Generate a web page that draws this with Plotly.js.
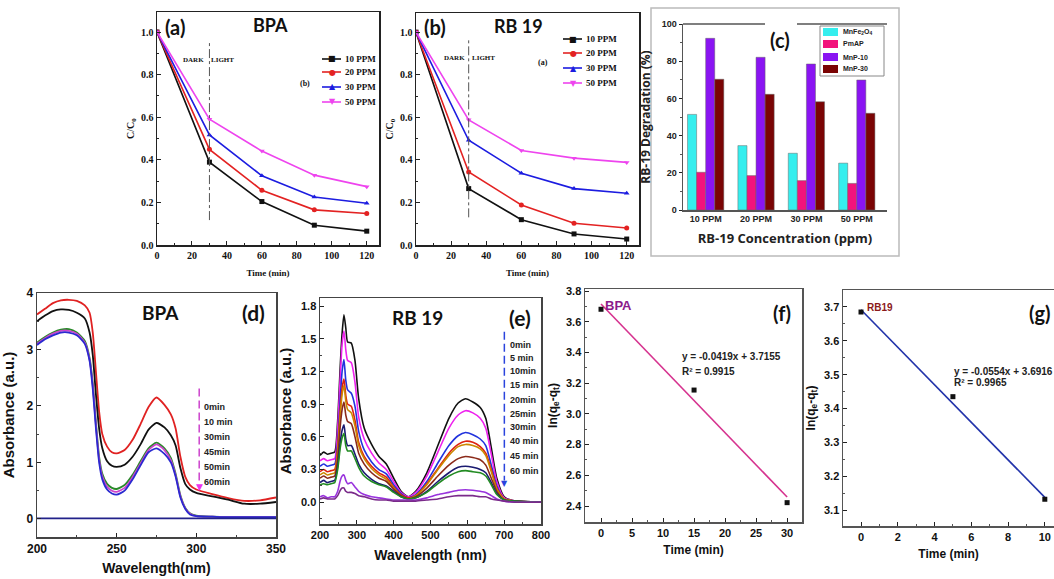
<!DOCTYPE html>
<html><head><meta charset="utf-8">
<script src="https://cdn.plot.ly/plotly-3.0.1.min.js"></script>
<style>html,body{margin:0;padding:0;background:#fff}#plot{width:1054px;height:579px}</style>
</head><body><div id="plot"></div>
<script>
// ---------- DATA ----------
// (a) BPA, (b) RB 19 : C/C0 vs time
const timeAB = [0, 30, 60, 90, 120];
const concLabels = ['10 PPM', '20 PPM', '30 PPM', '50 PPM'];
const bpa10 = [1.0, 0.389, 0.204, 0.093, 0.065];
const bpa20 = [1.0, 0.449, 0.257, 0.165, 0.148];
const bpa30 = [1.0, 0.517, 0.325, 0.225, 0.196];
const bpa50 = [1.0, 0.591, 0.441, 0.328, 0.274];
const rb10 = [1.0, 0.265, 0.119, 0.052, 0.028];
const rb20 = [1.0, 0.343, 0.188, 0.102, 0.080];
const rb30 = [1.0, 0.492, 0.337, 0.265, 0.243];
const rb50 = [1.0, 0.588, 0.444, 0.408, 0.388];

// (c) RB-19 degradation (%)
const catC = ['10 PPM', '20 PPM', '30 PPM', '50 PPM'];
const seriesC = ['MnFe<sub>2</sub>O<sub>4</sub>', 'PmAP', 'MnP-10', 'MnP-30'];
const mnfe = [51.4, 34.6, 30.5, 25.2];
const pmap = [20.3, 18.5, 15.8, 14.3];
const mnp10 = [92.3, 82.1, 78.5, 69.9];
const mnp30 = [70.3, 62.2, 58.2, 52.0];

// (d) BPA absorbance spectra
const wlD = [200,205,210,215,220,225,230,233,235,237,239,241,244,247,250,255,260,265,270,275,280,284,287,290,293,296,300,310,320,330,340,350];
const d0  = [3.62,3.72,3.82,3.87,3.88,3.86,3.78,3.65,3.30,2.60,1.90,1.50,1.28,1.18,1.16,1.22,1.40,1.68,1.98,2.15,2.02,1.85,1.60,1.10,0.75,0.60,0.52,0.44,0.37,0.32,0.33,0.38];
const d10 = [3.50,3.60,3.68,3.71,3.70,3.65,3.55,3.30,2.90,2.20,1.60,1.25,1.02,0.94,0.92,0.96,1.10,1.32,1.58,1.70,1.62,1.48,1.30,0.90,0.62,0.52,0.46,0.40,0.34,0.27,0.27,0.30];
const d30 = [3.12,3.22,3.30,3.35,3.36,3.30,3.15,2.85,2.40,1.70,1.10,0.80,0.62,0.55,0.53,0.60,0.78,1.02,1.25,1.35,1.25,1.08,0.80,0.42,0.20,0.10,0.06,0.04,0.03,0.03,0.03,0.03];
const d45 = [3.10,3.20,3.28,3.33,3.33,3.28,3.12,2.82,2.36,1.65,1.05,0.75,0.57,0.50,0.48,0.55,0.74,0.98,1.22,1.32,1.22,1.04,0.77,0.40,0.19,0.09,0.05,0.04,0.03,0.03,0.03,0.03];
const d60 = [3.08,3.18,3.25,3.30,3.30,3.25,3.10,2.80,2.30,1.60,1.00,0.70,0.52,0.45,0.43,0.50,0.70,0.95,1.18,1.25,1.15,1.00,0.75,0.38,0.18,0.08,0.05,0.04,0.03,0.03,0.03,0.03];
const dBase = [0.01,0.01,0.01,0.01,0.01,0.01,0.01,0.01,0.01,0.01,0.01,0.01,0.01,0.01,0.01,0.01,0.01,0.01,0.01,0.01,0.01,0.01,0.01,0.01,0.01,0.01,0.01,0.01,0.01,0.01,0.01,0.01];
const labelsD = ['0min', '10 min', '30min', '45min', '50min', '60min'];

// (e) RB 19 absorbance spectra
const wlE = [200,210,220,230,240,248,255,260,265,270,275,285,295,305,320,340,360,380,400,420,440,460,490,520,550,575,595,615,635,650,665,680,700,730,800];
const e0  = [0.43,0.46,0.44,0.45,0.46,0.75,1.25,1.55,1.72,1.60,1.47,1.46,1.30,0.95,0.68,0.53,0.42,0.35,0.22,0.10,0.05,0.10,0.27,0.52,0.77,0.91,0.95,0.92,0.87,0.77,0.50,0.22,0.05,0.01,0.00];
const e5  = [0.38,0.40,0.38,0.39,0.40,0.68,1.15,1.45,1.57,1.40,1.30,1.28,1.10,0.78,0.58,0.45,0.36,0.30,0.19,0.09,0.05,0.09,0.24,0.46,0.68,0.80,0.84,0.82,0.77,0.68,0.44,0.19,0.04,0.01,0.00];
const e10 = [0.33,0.35,0.33,0.34,0.35,0.55,0.95,1.20,1.31,1.12,1.03,1.00,0.88,0.65,0.48,0.37,0.30,0.26,0.16,0.08,0.04,0.07,0.19,0.36,0.52,0.61,0.64,0.62,0.58,0.52,0.34,0.15,0.03,0.01,0.00];
const e15 = [0.28,0.30,0.28,0.29,0.30,0.50,0.85,1.05,1.13,0.98,0.90,0.88,0.75,0.55,0.42,0.33,0.27,0.23,0.14,0.07,0.04,0.06,0.17,0.31,0.45,0.53,0.56,0.55,0.51,0.45,0.30,0.13,0.03,0.01,0.00];
const e20 = [0.25,0.27,0.25,0.26,0.27,0.47,0.80,0.99,1.07,0.93,0.85,0.82,0.70,0.52,0.40,0.31,0.25,0.21,0.13,0.06,0.03,0.06,0.16,0.30,0.43,0.51,0.53,0.52,0.49,0.43,0.28,0.12,0.03,0.01,0.00];
const e25 = [0.22,0.24,0.22,0.23,0.24,0.40,0.70,0.85,0.92,0.80,0.74,0.72,0.60,0.45,0.35,0.27,0.22,0.19,0.12,0.06,0.03,0.05,0.13,0.24,0.34,0.40,0.42,0.41,0.39,0.34,0.22,0.10,0.02,0.01,0.00];
const e30 = [0.18,0.20,0.18,0.19,0.20,0.33,0.55,0.66,0.71,0.58,0.52,0.52,0.44,0.35,0.27,0.21,0.17,0.15,0.10,0.05,0.03,0.04,0.10,0.19,0.27,0.32,0.33,0.32,0.30,0.27,0.18,0.08,0.02,0.01,0.00];
const e40 = [0.16,0.17,0.16,0.17,0.18,0.30,0.50,0.59,0.63,0.52,0.47,0.47,0.40,0.32,0.24,0.19,0.16,0.14,0.09,0.05,0.03,0.04,0.09,0.17,0.24,0.28,0.29,0.28,0.27,0.24,0.16,0.07,0.02,0.01,0.00];
const e45 = [0.05,0.06,0.04,0.05,0.05,0.10,0.20,0.24,0.25,0.20,0.17,0.18,0.14,0.10,0.07,0.05,0.04,0.03,0.02,0.02,0.02,0.02,0.04,0.07,0.09,0.11,0.115,0.11,0.10,0.09,0.06,0.03,0.01,0.00,0.00];
const e60 = [0.03,0.04,0.03,0.03,0.03,0.06,0.11,0.13,0.13,0.10,0.09,0.09,0.08,0.06,0.05,0.03,0.02,0.02,0.01,0.01,0.01,0.01,0.02,0.03,0.05,0.06,0.06,0.06,0.05,0.05,0.03,0.02,0.01,0.00,0.00];
const labelsE = ['0min', '5 min', '10min', '15 min', '20min', '25min', '30min', '40 min', '45 min', '60 min'];

// (f) BPA kinetics
const timeF = [0, 15, 30];
const lnF = [3.681, 3.155, 2.422];
const fitFx = [0, 30];
const fitFy = [3.7155, 2.4585];
// (g) RB19 kinetics
const timeG = [0, 5, 10];
const lnG = [3.685, 3.435, 3.132];
const fitGx = [0, 10];
const fitGy = [3.6916, 3.1376];

// ---------- HELPERS ----------
const W = 1054, H = 579;
const X = p => p / W;
const Y = p => 1 - p / H;
const SERIF = 'Liberation Serif, Times New Roman, serif';
const SANS = 'Liberation Sans, Arial, sans-serif';
const NARROW = 'Liberation Sans Narrow, Liberation Sans, Arial, sans-serif';
const HEAD = 'Lato, Open Sans, sans-serif';

function ann(text, x, y, o) {
  o = o || {};
  return {
    text: text, xref: 'paper', yref: 'paper', x: X(x), y: Y(y),
    showarrow: false, xanchor: o.xanchor || 'center', yanchor: 'middle',
    font: { family: o.family || SANS, size: o.size || 10, color: o.color || '#111', weight: o.weight || 'bold' }
  };
}
function dataAnn(text, xr, yr, x, y, o) {
  o = o || {};
  return {
    text: text, xref: xr, yref: yr, x: x, y: y, showarrow: false,
    xanchor: o.xanchor || 'left', yanchor: 'middle',
    font: { family: o.family || NARROW, size: o.size || 9, color: o.color || '#222', weight: 'bold' }
  };
}
function axis(dom, range, o) {
  return Object.assign({
    domain: dom, range: range, showline: true, mirror: true, linecolor: '#222', linewidth: 1.5,
    ticks: 'inside', ticklen: 4, tickcolor: '#222', showgrid: false, zeroline: false, fixedrange: true
  }, o);
}

const traces = [];
// (a)
const colAB = ['#111111', '#e32222', '#1c1ce0', '#ee44ee'];
const symAB = ['square', 'circle', 'triangle-up', 'triangle-down'];
[bpa10, bpa20, bpa30, bpa50].forEach((s, i) => traces.push({
  x: timeAB, y: s, xaxis: 'x', yaxis: 'y', mode: 'lines+markers', name: concLabels[i], showlegend: false,
  line: { color: colAB[i], width: 1.6 }, marker: { color: colAB[i], symbol: symAB[i], size: 5 }
}));
// (b)
[rb10, rb20, rb30, rb50].forEach((s, i) => traces.push({
  x: timeAB, y: s, xaxis: 'x2', yaxis: 'y2', mode: 'lines+markers', name: concLabels[i], showlegend: false,
  line: { color: colAB[i], width: 1.6 }, marker: { color: colAB[i], symbol: symAB[i], size: 5 }
}));
// (c)
const colC = ['#35eeee', '#f2137c', '#8a14f2', '#7a0404'];
[mnfe, pmap, mnp10, mnp30].forEach((s, i) => traces.push({
  type: 'bar', x: catC, y: s, xaxis: 'x3', yaxis: 'y3', name: seriesC[i], showlegend: false,
  marker: { color: colC[i], line: { color: '#666', width: 0.5 } }
}));
// (d)
const colD = ['#e02222', '#111111', '#2a8a2a', '#cc44cc', '#2a2ad0', '#22228a'];
[d0, d10, d30, d45, d60, dBase].forEach((s, i) => traces.push({
  x: wlD, y: s, xaxis: 'x4', yaxis: 'y4', mode: 'lines', showlegend: false,
  line: { color: colD[i], width: 1.8, shape: 'spline', smoothing: 0.6 }
}));
// (e)
const colE = ['#111111', '#ee22ee', '#2233dd', '#dd2211', '#cc8800', '#8b2a1a', '#1a1a70', '#228b22', '#9933dd', '#7a2a8a'];
[e0, e5, e10, e15, e20, e25, e30, e40, e45, e60].forEach((s, i) => traces.push({
  x: wlE, y: s, xaxis: 'x5', yaxis: 'y5', mode: 'lines', showlegend: false, name: labelsE[i],
  line: { color: colE[i], width: 1.6, shape: 'spline', smoothing: 0.6 }
}));
// (f)
traces.push({ x: fitFx, y: fitFy, xaxis: 'x6', yaxis: 'y6', mode: 'lines', showlegend: false, line: { color: '#d6338f', width: 1.6 } });
traces.push({ x: timeF, y: lnF, xaxis: 'x6', yaxis: 'y6', mode: 'markers', showlegend: false, marker: { color: '#111', symbol: 'square', size: 5 } });
// (g)
traces.push({ x: fitGx, y: fitGy, xaxis: 'x7', yaxis: 'y7', mode: 'lines', showlegend: false, line: { color: '#2233aa', width: 1.6 } });
traces.push({ x: timeG, y: lnG, xaxis: 'x7', yaxis: 'y7', mode: 'markers', showlegend: false, marker: { color: '#111', symbol: 'square', size: 5 } });

const tfAB = { family: SERIF, size: 10, weight: 'bold', color: '#111' };
const tfN = { family: NARROW, size: 11, weight: 'bold', color: '#111' };

const layout = {
  width: W, height: H, margin: { l: 0, r: 0, t: 0, b: 0 }, paper_bgcolor: '#fff', plot_bgcolor: '#fff',
  showlegend: false, hovermode: false, barmode: 'group', bargap: 0.28, bargroupgap: 0,
  // (a)
  xaxis: axis([X(157), X(379)], [0, 127], { anchor: 'y', tickvals: [0, 20, 40, 60, 80, 100, 120], tickfont: tfAB,
    minor: { dtick: 10, ticks: 'inside', ticklen: 2, tickcolor: '#222' },
    title: { text: 'Time (min)', font: { family: SERIF, size: 9, weight: 'bold', color: '#111' }, standoff: 10 } }),
  yaxis: axis([Y(245), Y(12)], [0, 1.094], { anchor: 'x', tickvals: [0, 0.2, 0.4, 0.6, 0.8, 1.0], tickformat: '.1f', tickfont: tfAB,
    minor: { dtick: 0.1, ticks: 'inside', ticklen: 2, tickcolor: '#222' },
    title: { text: 'C/C<sub>0</sub>', font: { family: SERIF, size: 10, weight: 'bold', color: '#111' }, standoff: 4 } }),
  // (b)
  xaxis2: axis([X(416), X(639)], [0, 127], { anchor: 'y2', tickvals: [0, 20, 40, 60, 80, 100, 120], tickfont: tfAB,
    minor: { dtick: 10, ticks: 'inside', ticklen: 2, tickcolor: '#222' },
    title: { text: 'Time (min)', font: { family: SERIF, size: 9, weight: 'bold', color: '#111' }, standoff: 10 } }),
  yaxis2: axis([Y(245), Y(13)], [0, 1.09], { anchor: 'x2', tickvals: [0, 0.2, 0.4, 0.6, 0.8, 1.0], tickformat: '.1f', tickfont: tfAB,
    minor: { dtick: 0.1, ticks: 'inside', ticklen: 2, tickcolor: '#222' },
    title: { text: 'C/C<sub>0</sub>', font: { family: SERIF, size: 10, weight: 'bold', color: '#111' }, standoff: 4 } }),
  // (c)
  xaxis3: axis([X(683), X(887)], [-0.45, 3.6], { anchor: 'y3', type: 'category', mirror: false, ticks: '', linecolor: '#555',
    tickfont: { family: SANS, size: 9, weight: 'bold', color: '#222' },
    title: { text: 'RB-19 Concentration (ppm)', font: { family: 'Open Sans, ' + SANS, size: 13, weight: 'bold', color: '#222' }, standoff: 10 } }),
  yaxis3: axis([Y(210), Y(24)], [0, 100], { anchor: 'x3', mirror: false, ticks: 'outside', ticklen: 3, linecolor: '#555', tickvals: [0, 20, 40, 60, 80, 100],
    minor: { dtick: 10, ticks: 'outside', ticklen: 2, tickcolor: '#555' },
    tickfont: { family: SANS, size: 9, weight: 'bold', color: '#222' },
    title: { text: 'RB-19 Degradation (%)', font: { family: 'Open Sans, ' + SANS, size: 12, weight: 'bold', color: '#222' }, standoff: 8 } }),
  // (d)
  xaxis4: axis([X(37), X(276)], [200, 350], { anchor: 'y4', tickvals: [200, 250, 300, 350], linecolor: '#444', tickfont: { family: SANS, size: 12, weight: 'bold', color: '#111' },
    minor: { dtick: 25, ticks: 'inside', ticklen: 2, tickcolor: '#444' },
    title: { text: 'Wavelength(nm)', font: { family: SANS, size: 14, weight: 'bold', color: '#111' }, standoff: 8 } }),
  yaxis4: axis([Y(537), Y(293)], [-0.32, 4], { anchor: 'x4', tickvals: [0, 1, 2, 3, 4], linecolor: '#444', tickfont: { family: SANS, size: 12, weight: 'bold', color: '#111' },
    minor: { dtick: 0.5, ticks: 'inside', ticklen: 2, tickcolor: '#444' },
    title: { text: 'Absorbance (a.u.)', font: { family: SANS, size: 15, weight: 'bold', color: '#111' }, standoff: 8 } }),
  // (e)
  xaxis5: axis([X(320), X(541)], [200, 800], { anchor: 'y5', dtick: 100, tick0: 200, linecolor: '#444', tickfont: tfN,
    minor: { dtick: 50, ticks: 'inside', ticklen: 2, tickcolor: '#444' },
    title: { text: 'Wavelength (nm)', font: { family: SANS, size: 14, weight: 'bold', color: '#111' }, standoff: 10 } }),
  yaxis5: axis([Y(524), Y(298)], [-0.2, 1.874], { anchor: 'x5', tickvals: [0, 0.3, 0.6, 0.9, 1.2, 1.5, 1.8], tickformat: '.1f', linecolor: '#444', tickfont: tfN,
    minor: { dtick: 0.15, ticks: 'inside', ticklen: 2, tickcolor: '#444' },
    title: { text: 'Absorbance (a.u.)', font: { family: SANS, size: 15, weight: 'bold', color: '#111' }, standoff: 6 } }),
  // (f)
  xaxis6: axis([X(585), X(802)], [-2.58, 32.4], { anchor: 'y6', tickvals: [0, 5, 10, 15, 20, 25, 30], linecolor: '#555', tickfont: tfN,
    minor: { dtick: 2.5, ticks: 'inside', ticklen: 2, tickcolor: '#555' },
    title: { text: 'Time (min)', font: { family: SANS, size: 12, weight: 'bold', color: '#111' }, standoff: 8 } }),
  yaxis6: axis([Y(522), Y(289)], [2.296, 3.813], { anchor: 'x6', tickvals: [2.4, 2.6, 2.8, 3.0, 3.2, 3.4, 3.6, 3.8], tickformat: '.1f', linecolor: '#555', tickfont: tfN,
    minor: { dtick: 0.1, ticks: 'inside', ticklen: 2, tickcolor: '#555' },
    title: { text: 'ln(q<sub>e</sub>-q<sub>t</sub>)', font: { family: SANS, size: 12, weight: 'bold', color: '#111' }, standoff: 6 } }),
  // (g)
  xaxis7: axis([X(843), 1], [-0.98, 10.5], { anchor: 'y7', tickvals: [0, 2, 4, 6, 8, 10], linecolor: '#555', tickfont: tfN,
    minor: { dtick: 1, ticks: 'inside', ticklen: 2, tickcolor: '#555' },
    title: { text: 'Time (min)', font: { family: SANS, size: 12, weight: 'bold', color: '#111' }, standoff: 8 } }),
  yaxis7: axis([Y(526), Y(290)], [3.053, 3.75], { anchor: 'x7', mirror: false, tickvals: [3.1, 3.2, 3.3, 3.4, 3.5, 3.6, 3.7], tickformat: '.1f', linecolor: '#555', tickfont: tfN,
    minor: { dtick: 0.05, ticks: 'inside', ticklen: 2, tickcolor: '#555' },
    title: { text: 'ln(q<sub>e</sub>-q<sub>t</sub>)', font: { family: SANS, size: 12, weight: 'bold', color: '#111' }, standoff: 6 } }),
  shapes: [], annotations: []
};

const S = layout.shapes, A = layout.annotations;
// panel (c) outer box and split top line
S.push({ type: 'rect', xref: 'paper', yref: 'paper', x0: X(651), x1: X(899), y0: Y(256), y1: Y(8), line: { color: '#bbbbbb', width: 1.5 } });
S.push({ type: 'line', xref: 'paper', yref: 'paper', x0: X(683), x1: X(765), y0: Y(24), y1: Y(24), line: { color: '#555', width: 1.5 } });
S.push({ type: 'line', xref: 'paper', yref: 'paper', x0: X(797), x1: X(887), y0: Y(24), y1: Y(24), line: { color: '#555', width: 1.5 } });
// dark/light separators
S.push({ type: 'line', xref: 'x', yref: 'y', x0: 30, x1: 30, y0: 0.117, y1: 0.953, line: { color: '#555', width: 1, dash: 'dashdot' } });
S.push({ type: 'line', xref: 'x2', yref: 'y2', x0: 30, x1: 30, y0: 0.13, y1: 0.962, line: { color: '#555', width: 1, dash: 'dashdot' } });

// legends (a) and (b)
const glyph = ['■', '●', '▲', '▼'];
const rowsA = [59, 72, 87, 102], rowsB = [39, 53, 68, 83];
concLabels.forEach((lab, i) => {
  S.push({ type: 'line', xref: 'paper', yref: 'paper', x0: X(322), x1: X(341), y0: Y(rowsA[i]), y1: Y(rowsA[i]), line: { color: colAB[i], width: 1.6 } });
  A.push(ann(glyph[i], 332, rowsA[i], { size: 8, color: colAB[i], family: 'DejaVu Sans' }));
  A.push(ann(lab, 343, rowsA[i], { xanchor: 'left', size: 9, family: SERIF }));
  S.push({ type: 'line', xref: 'paper', yref: 'paper', x0: X(563), x1: X(582), y0: Y(rowsB[i]), y1: Y(rowsB[i]), line: { color: colAB[i], width: 1.6 } });
  A.push(ann(glyph[i], 573, rowsB[i], { size: 8, color: colAB[i], family: 'DejaVu Sans' }));
  A.push(ann(lab, 584, rowsB[i], { xanchor: 'left', size: 9, family: SERIF }));
});
// legend (c)
S.push({ type: 'rect', xref: 'paper', yref: 'paper', x0: X(820), x1: X(884), y0: Y(76), y1: Y(26), line: { color: '#888', width: 1 }, fillcolor: '#fff', layer: 'above' });
const rowsC = [32, 44, 57, 69];
seriesC.forEach((lab, i) => {
  S.push({ type: 'rect', xref: 'paper', yref: 'paper', x0: X(823), x1: X(838), y0: Y(rowsC[i] + 4), y1: Y(rowsC[i] - 4), line: { width: 0 }, fillcolor: colC[i], layer: 'above' });
  A.push(ann(lab, 841, rowsC[i], { xanchor: 'left', size: 7, family: SANS, color: '#222' }));
});

// panel titles
A.push(ann('(a)', 175, 27, { size: 20, family: HEAD }));
A.push(ann('BPA', 270, 25, { size: 18, family: HEAD }));
A.push(ann('DARK', 193, 60, { size: 7, family: SERIF }));
A.push(ann('LIGHT', 222, 60, { size: 7, family: SERIF }));
A.push(ann('(b)', 305, 83, { size: 8, family: SERIF }));
A.push(ann('(b)', 435, 27, { size: 20, family: HEAD }));
A.push(ann('RB 19', 518, 26, { size: 18, family: HEAD }));
A.push(ann('DARK', 454, 58, { size: 7, family: SERIF }));
A.push(ann('LIGHT', 483, 58, { size: 7, family: SERIF }));
A.push(ann('(a)', 543, 63, { size: 8, family: SERIF }));
A.push(ann('(c)', 780, 40, { size: 20, family: HEAD }));
A.push(ann('BPA', 160, 312, { size: 19, family: HEAD }));
A.push(ann('(d)', 253, 312, { size: 21, family: HEAD }));
A.push(ann('RB 19', 417, 317, { size: 19, family: HEAD }));
A.push(ann('(e)', 520, 317, { size: 21, family: HEAD }));
A.push(ann('(f)', 782, 313, { size: 20, family: HEAD }));
A.push(ann('(g)', 1053, 313, { size: 20, family: HEAD, xanchor: 'right' }));

// (d) time arrow + labels
S.push({ type: 'line', xref: 'x4', yref: 'y4', x0: 301.8, x1: 301.8, y0: 2.31, y1: 0.62, line: { color: '#cc44cc', width: 1.5, dash: '8px,4px' } });
A.push({ text: '▼', xref: 'x4', yref: 'y4', x: 301.8, y: 0.56, showarrow: false, font: { size: 9, color: '#ee33ee', family: 'DejaVu Sans' } });
const yD = [1.985, 1.72, 1.455, 1.19, 0.925, 0.66];
labelsD.forEach((t, i) => A.push(dataAnn(t, 'x4', 'y4', 303.7, yD[i], { size: 9 })));
// (e) time arrow + labels
S.push({ type: 'line', xref: 'x5', yref: 'y5', x0: 700.5, x1: 700.5, y0: 1.564, y1: 0.2, line: { color: '#2a44dd', width: 1.5, dash: '8px,4px' } });
A.push({ text: '▼', xref: 'x5', yref: 'y5', x: 700.5, y: 0.17, showarrow: false, font: { size: 8, color: '#2a44dd', family: 'DejaVu Sans' } });
const yE = [1.442, 1.325, 1.206, 1.08, 0.936, 0.813, 0.69, 0.558, 0.423, 0.285];
labelsE.forEach((t, i) => A.push(dataAnn(t, 'x5', 'y5', 709.5, yE[i], { size: 9 })));

// (f) texts
A.push(ann('BPA', 618, 305, { size: 13, family: SANS, color: '#8b1a8b' }));
A.push(ann('y = -0.0419x + 3.7155', 680, 356, { size: 10, family: NARROW, xanchor: 'left', color: '#222' }));
A.push(ann('R² = 0.9915', 680, 371, { size: 10, family: NARROW, xanchor: 'left', color: '#222' }));
// (g) texts
A.push(ann('RB19', 880, 307, { size: 10, family: NARROW, color: '#8b1a1a' }));
A.push(ann('y = -0.0554x + 3.6916', 952, 371, { size: 10, family: NARROW, xanchor: 'left', color: '#222' }));
A.push(ann('R² = 0.9965', 952, 382, { size: 10, family: NARROW, xanchor: 'left', color: '#222' }));

Plotly.newPlot('plot', traces, layout, { staticPlot: true, displayModeBar: false });
</script></body></html>
